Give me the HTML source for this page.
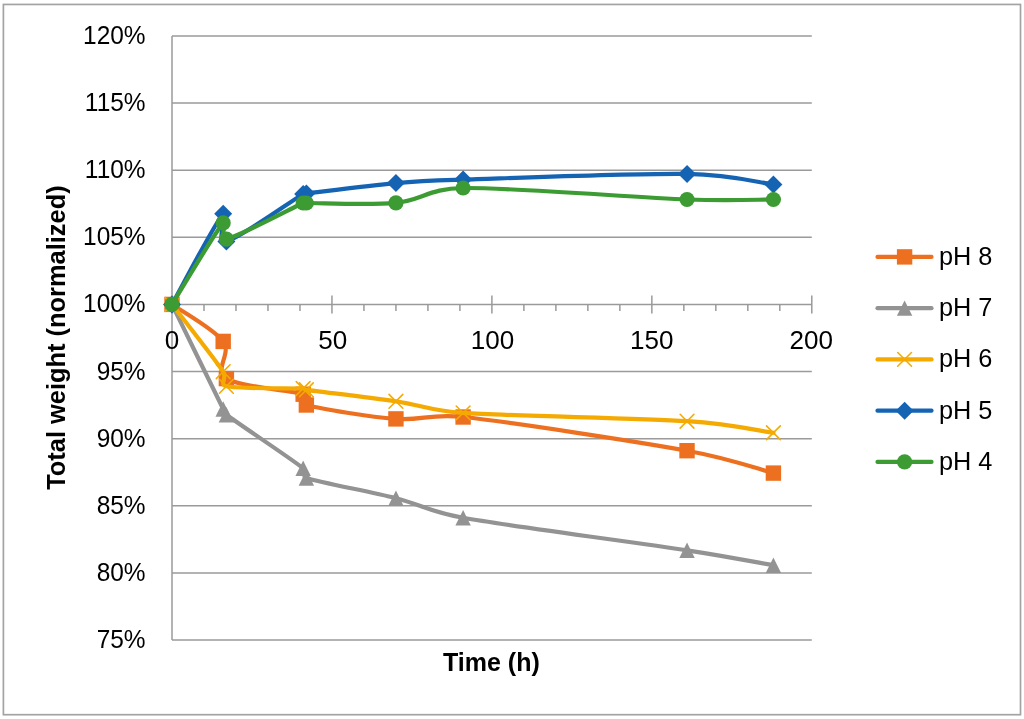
<!DOCTYPE html>
<html><head><meta charset="utf-8"><title>Total weight (normalized) vs Time</title>
<style>
html,body{margin:0;padding:0;background:#fff;width:1024px;height:719px;overflow:hidden;}
svg{display:block;will-change:transform;}
text{font-family:"Liberation Sans",sans-serif;fill:#000;}
</style></head><body>
<svg width="1024" height="719" viewBox="0 0 1024 719">

<rect x="3.4" y="4.45" width="1017.1" height="710.25" fill="none" stroke="#A3A3A3" stroke-width="1.7"/>

<line x1="172" y1="36.00" x2="811.80" y2="36.00" stroke="#9A9A9A" stroke-width="1.5"/>
<line x1="172" y1="103.11" x2="811.80" y2="103.11" stroke="#9A9A9A" stroke-width="1.5"/>
<line x1="172" y1="170.22" x2="811.80" y2="170.22" stroke="#9A9A9A" stroke-width="1.5"/>
<line x1="172" y1="237.33" x2="811.80" y2="237.33" stroke="#9A9A9A" stroke-width="1.5"/>
<line x1="172" y1="371.56" x2="811.80" y2="371.56" stroke="#9A9A9A" stroke-width="1.5"/>
<line x1="172" y1="438.67" x2="811.80" y2="438.67" stroke="#9A9A9A" stroke-width="1.5"/>
<line x1="172" y1="505.78" x2="811.80" y2="505.78" stroke="#9A9A9A" stroke-width="1.5"/>
<line x1="172" y1="572.89" x2="811.80" y2="572.89" stroke="#9A9A9A" stroke-width="1.5"/>
<line x1="172" y1="640.00" x2="811.80" y2="640.00" stroke="#9A9A9A" stroke-width="1.5"/>
<line x1="172" y1="36" x2="172" y2="640" stroke="#9A9A9A" stroke-width="1.5"/>
<line x1="172" y1="304.40" x2="811.80" y2="304.40" stroke="#9A9A9A" stroke-width="1.5"/>
<line x1="172.00" y1="295.50" x2="172.00" y2="313.40" stroke="#9A9A9A" stroke-width="1.5"/>
<line x1="203.99" y1="304.40" x2="203.99" y2="310.90" stroke="#9A9A9A" stroke-width="1.5"/>
<line x1="235.98" y1="304.40" x2="235.98" y2="310.90" stroke="#9A9A9A" stroke-width="1.5"/>
<line x1="267.97" y1="304.40" x2="267.97" y2="310.90" stroke="#9A9A9A" stroke-width="1.5"/>
<line x1="299.96" y1="304.40" x2="299.96" y2="310.90" stroke="#9A9A9A" stroke-width="1.5"/>
<line x1="331.95" y1="295.50" x2="331.95" y2="313.40" stroke="#9A9A9A" stroke-width="1.5"/>
<line x1="363.94" y1="304.40" x2="363.94" y2="310.90" stroke="#9A9A9A" stroke-width="1.5"/>
<line x1="395.93" y1="304.40" x2="395.93" y2="310.90" stroke="#9A9A9A" stroke-width="1.5"/>
<line x1="427.92" y1="304.40" x2="427.92" y2="310.90" stroke="#9A9A9A" stroke-width="1.5"/>
<line x1="459.91" y1="304.40" x2="459.91" y2="310.90" stroke="#9A9A9A" stroke-width="1.5"/>
<line x1="491.90" y1="295.50" x2="491.90" y2="313.40" stroke="#9A9A9A" stroke-width="1.5"/>
<line x1="523.89" y1="304.40" x2="523.89" y2="310.90" stroke="#9A9A9A" stroke-width="1.5"/>
<line x1="555.88" y1="304.40" x2="555.88" y2="310.90" stroke="#9A9A9A" stroke-width="1.5"/>
<line x1="587.87" y1="304.40" x2="587.87" y2="310.90" stroke="#9A9A9A" stroke-width="1.5"/>
<line x1="619.86" y1="304.40" x2="619.86" y2="310.90" stroke="#9A9A9A" stroke-width="1.5"/>
<line x1="651.85" y1="295.50" x2="651.85" y2="313.40" stroke="#9A9A9A" stroke-width="1.5"/>
<line x1="683.84" y1="304.40" x2="683.84" y2="310.90" stroke="#9A9A9A" stroke-width="1.5"/>
<line x1="715.83" y1="304.40" x2="715.83" y2="310.90" stroke="#9A9A9A" stroke-width="1.5"/>
<line x1="747.82" y1="304.40" x2="747.82" y2="310.90" stroke="#9A9A9A" stroke-width="1.5"/>
<line x1="779.81" y1="304.40" x2="779.81" y2="310.90" stroke="#9A9A9A" stroke-width="1.5"/>
<line x1="811.80" y1="295.50" x2="811.80" y2="313.40" stroke="#9A9A9A" stroke-width="1.5"/>
<text transform="translate(145.6,44.00) scale(0.967,1)" font-size="25.3" text-anchor="end">120%</text>
<text transform="translate(145.6,111.11) scale(0.967,1)" font-size="25.3" text-anchor="end">115%</text>
<text transform="translate(145.6,178.22) scale(0.967,1)" font-size="25.3" text-anchor="end">110%</text>
<text transform="translate(145.6,245.33) scale(0.967,1)" font-size="25.3" text-anchor="end">105%</text>
<text transform="translate(145.6,312.44) scale(0.967,1)" font-size="25.3" text-anchor="end">100%</text>
<text transform="translate(145.6,379.56) scale(0.967,1)" font-size="25.3" text-anchor="end">95%</text>
<text transform="translate(145.6,446.67) scale(0.967,1)" font-size="25.3" text-anchor="end">90%</text>
<text transform="translate(145.6,513.78) scale(0.967,1)" font-size="25.3" text-anchor="end">85%</text>
<text transform="translate(145.6,580.89) scale(0.967,1)" font-size="25.3" text-anchor="end">80%</text>
<text transform="translate(145.6,648.00) scale(0.967,1)" font-size="25.3" text-anchor="end">75%</text>
<text transform="translate(172.10,349.2) scale(1.03,1)" font-size="25.3" text-anchor="middle">0</text>
<text transform="translate(332.85,349.2) scale(1.03,1)" font-size="25.3" text-anchor="middle">50</text>
<text transform="translate(492.55,349.2) scale(1.03,1)" font-size="25.3" text-anchor="middle">100</text>
<text transform="translate(651.80,349.2) scale(1.03,1)" font-size="25.3" text-anchor="middle">150</text>
<text transform="translate(811.30,349.2) scale(1.03,1)" font-size="25.3" text-anchor="middle">200</text>
<text x="491.4" y="671.1" font-size="25" font-weight="bold" text-anchor="middle">Time (h)</text>
<text transform="translate(65.35,337.6) rotate(-90) scale(1.017,1)" x="0" y="0" font-size="25" font-weight="bold" text-anchor="middle">Total weight (normalized)</text>
<path d="M172.00,304.40 C180.53,310.57 214.12,329.03 223.18,341.40 C232.25,353.77 213.05,369.80 226.38,378.60 C239.71,387.40 289.83,389.80 303.16,394.20 C308.51,395.97 300.92,403.55 306.36,405.00 C321.82,409.12 369.80,416.90 395.93,418.90 C422.06,420.90 429.70,413.35 463.11,417.00 C511.63,422.30 635.32,441.35 687.04,450.70 C730.94,458.64 759.02,469.37 773.41,473.10" fill="none" stroke="#ED7020" stroke-width="4.20" stroke-linejoin="round" stroke-linecap="round"/>
<rect x="164.30" y="296.70" width="15.40" height="15.40" fill="#ED7020"/>
<rect x="215.48" y="333.70" width="15.40" height="15.40" fill="#ED7020"/>
<rect x="218.68" y="370.90" width="15.40" height="15.40" fill="#ED7020"/>
<rect x="295.46" y="386.50" width="15.40" height="15.40" fill="#ED7020"/>
<rect x="298.66" y="397.30" width="15.40" height="15.40" fill="#ED7020"/>
<rect x="388.23" y="411.20" width="15.40" height="15.40" fill="#ED7020"/>
<rect x="455.41" y="409.30" width="15.40" height="15.40" fill="#ED7020"/>
<rect x="679.34" y="443.00" width="15.40" height="15.40" fill="#ED7020"/>
<rect x="765.71" y="465.40" width="15.40" height="15.40" fill="#ED7020"/>
<path d="M172.00,304.40 C180.53,321.83 214.12,390.61 223.18,409.00 C224.64,411.95 223.74,412.79 226.38,414.75 C239.71,424.63 289.83,457.76 303.16,468.30 C307.16,471.47 301.50,476.43 306.36,478.00 C321.82,482.98 369.80,491.57 395.93,498.20 C422.06,504.83 428.67,511.64 463.11,517.80 C511.63,526.48 635.32,542.38 687.04,550.30 C730.37,556.93 759.02,562.80 773.41,565.30" fill="none" stroke="#939393" stroke-width="4.20" stroke-linejoin="round" stroke-linecap="round"/>
<path d="M172.00,296.70L179.70,312.10L164.30,312.10Z" fill="#939393"/>
<path d="M223.18,401.30L230.88,416.70L215.48,416.70Z" fill="#939393"/>
<path d="M226.38,407.05L234.08,422.45L218.68,422.45Z" fill="#939393"/>
<path d="M303.16,460.60L310.86,476.00L295.46,476.00Z" fill="#939393"/>
<path d="M306.36,470.30L314.06,485.70L298.66,485.70Z" fill="#939393"/>
<path d="M395.93,490.50L403.63,505.90L388.23,505.90Z" fill="#939393"/>
<path d="M463.11,510.10L470.81,525.50L455.41,525.50Z" fill="#939393"/>
<path d="M687.04,542.60L694.74,558.00L679.34,558.00Z" fill="#939393"/>
<path d="M773.41,557.60L781.11,573.00L765.71,573.00Z" fill="#939393"/>
<path d="M172.00,304.40 C180.53,315.62 214.12,358.05 223.18,371.70 C227.32,377.93 219.07,384.76 226.38,386.30 C239.71,389.10 289.83,387.92 303.16,388.50 C304.88,388.58 304.65,389.56 306.36,389.80 C321.82,391.93 369.80,397.45 395.93,401.30 C422.06,405.15 429.10,410.58 463.11,412.90 C511.63,416.22 635.32,417.89 687.04,421.20 C730.52,423.98 759.02,430.82 773.41,432.75" fill="none" stroke="#F4AA00" stroke-width="4.20" stroke-linejoin="round" stroke-linecap="round"/>
<path d="M165.10,297.50L178.90,311.30M165.10,311.30L178.90,297.50" stroke="#F4AA00" stroke-width="1.55" stroke-linecap="round" fill="none"/>
<path d="M216.28,364.80L230.08,378.60M216.28,378.60L230.08,364.80" stroke="#F4AA00" stroke-width="1.55" stroke-linecap="round" fill="none"/>
<path d="M219.48,379.40L233.28,393.20M219.48,393.20L233.28,379.40" stroke="#F4AA00" stroke-width="1.55" stroke-linecap="round" fill="none"/>
<path d="M296.26,381.60L310.06,395.40M296.26,395.40L310.06,381.60" stroke="#F4AA00" stroke-width="1.55" stroke-linecap="round" fill="none"/>
<path d="M299.46,382.90L313.26,396.70M299.46,396.70L313.26,382.90" stroke="#F4AA00" stroke-width="1.55" stroke-linecap="round" fill="none"/>
<path d="M389.03,394.40L402.83,408.20M389.03,408.20L402.83,394.40" stroke="#F4AA00" stroke-width="1.55" stroke-linecap="round" fill="none"/>
<path d="M456.21,406.00L470.01,419.80M456.21,419.80L470.01,406.00" stroke="#F4AA00" stroke-width="1.55" stroke-linecap="round" fill="none"/>
<path d="M680.14,414.30L693.94,428.10M680.14,428.10L693.94,414.30" stroke="#F4AA00" stroke-width="1.55" stroke-linecap="round" fill="none"/>
<path d="M766.51,425.85L780.31,439.65M766.51,439.65L780.31,425.85" stroke="#F4AA00" stroke-width="1.55" stroke-linecap="round" fill="none"/>
<path d="M172.00,304.40 C180.53,289.29 214.12,224.25 223.18,213.75 C232.25,203.25 213.05,244.69 226.38,241.40 C239.71,238.11 289.83,201.98 303.16,194.00 C304.55,193.17 304.75,193.69 306.36,193.50 C321.82,191.68 369.80,185.37 395.93,183.05 C422.06,180.73 429.49,180.65 463.11,179.60 C511.63,178.08 635.32,173.15 687.04,173.95 C730.54,174.62 759.02,182.66 773.41,184.40" fill="none" stroke="#1564B4" stroke-width="4.20" stroke-linejoin="round" stroke-linecap="round"/>
<path d="M172.00,295.40L181.00,304.40L172.00,313.40L163.00,304.40Z" fill="#1564B4"/>
<path d="M223.18,204.75L232.18,213.75L223.18,222.75L214.18,213.75Z" fill="#1564B4"/>
<path d="M226.38,232.40L235.38,241.40L226.38,250.40L217.38,241.40Z" fill="#1564B4"/>
<path d="M303.16,185.00L312.16,194.00L303.16,203.00L294.16,194.00Z" fill="#1564B4"/>
<path d="M306.36,184.50L315.36,193.50L306.36,202.50L297.36,193.50Z" fill="#1564B4"/>
<path d="M395.93,174.05L404.93,183.05L395.93,192.05L386.93,183.05Z" fill="#1564B4"/>
<path d="M463.11,170.60L472.11,179.60L463.11,188.60L454.11,179.60Z" fill="#1564B4"/>
<path d="M687.04,164.95L696.04,173.95L687.04,182.95L678.04,173.95Z" fill="#1564B4"/>
<path d="M773.41,175.40L782.41,184.40L773.41,193.40L764.41,184.40Z" fill="#1564B4"/>
<path d="M172.00,304.40 C180.53,290.82 214.12,233.77 223.18,222.90 C228.50,216.52 218.32,241.21 226.38,239.20 C239.71,235.88 289.83,209.03 303.16,203.00 C304.62,202.34 304.76,203.00 306.36,203.00 C321.82,202.97 369.80,205.35 395.93,202.85 C422.06,200.35 428.71,188.40 463.11,188.00 C511.63,187.44 635.32,197.58 687.04,199.50 C730.20,201.10 759.02,199.50 773.41,199.50" fill="none" stroke="#3C9B32" stroke-width="4.20" stroke-linejoin="round" stroke-linecap="round"/>
<circle cx="172.00" cy="304.40" r="7.6" fill="#3C9B32"/>
<circle cx="223.18" cy="222.90" r="7.6" fill="#3C9B32"/>
<circle cx="226.38" cy="239.20" r="7.6" fill="#3C9B32"/>
<circle cx="303.16" cy="203.00" r="7.6" fill="#3C9B32"/>
<circle cx="306.36" cy="203.00" r="7.6" fill="#3C9B32"/>
<circle cx="395.93" cy="202.85" r="7.6" fill="#3C9B32"/>
<circle cx="463.11" cy="188.00" r="7.6" fill="#3C9B32"/>
<circle cx="687.04" cy="199.50" r="7.6" fill="#3C9B32"/>
<circle cx="773.41" cy="199.50" r="7.6" fill="#3C9B32"/>
<line x1="877.5" y1="256.90" x2="931.5" y2="256.90" stroke="#ED7020" stroke-width="4.20" stroke-linecap="round"/>
<rect x="896.90" y="249.20" width="15.40" height="15.40" fill="#ED7020"/>
<text x="939" y="264.90" font-size="25.3">pH 8</text>
<line x1="877.5" y1="308.15" x2="931.5" y2="308.15" stroke="#939393" stroke-width="4.20" stroke-linecap="round"/>
<path d="M904.60,300.45L912.30,315.85L896.90,315.85Z" fill="#939393"/>
<text x="939" y="316.15" font-size="25.3">pH 7</text>
<line x1="877.5" y1="359.40" x2="931.5" y2="359.40" stroke="#F4AA00" stroke-width="4.20" stroke-linecap="round"/>
<path d="M897.70,352.50L911.50,366.30M897.70,366.30L911.50,352.50" stroke="#F4AA00" stroke-width="1.55" stroke-linecap="round" fill="none"/>
<text x="939" y="367.40" font-size="25.3">pH 6</text>
<line x1="877.5" y1="410.65" x2="931.5" y2="410.65" stroke="#1564B4" stroke-width="4.20" stroke-linecap="round"/>
<path d="M904.60,401.65L913.60,410.65L904.60,419.65L895.60,410.65Z" fill="#1564B4"/>
<text x="939" y="418.65" font-size="25.3">pH 5</text>
<line x1="877.5" y1="461.90" x2="931.5" y2="461.90" stroke="#3C9B32" stroke-width="4.20" stroke-linecap="round"/>
<circle cx="904.60" cy="461.90" r="7.6" fill="#3C9B32"/>
<text x="939" y="469.90" font-size="25.3">pH 4</text>
</svg></body></html>
